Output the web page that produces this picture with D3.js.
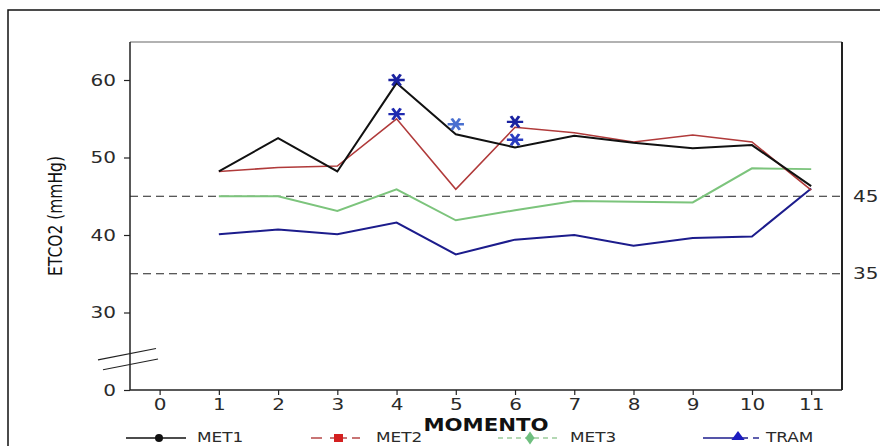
<!DOCTYPE html>
<html>
<head>
<meta charset="utf-8">
<script src="https://cdn.jsdelivr.net/npm/d3@7/dist/d3.min.js"></script>
<style>
  html, body { margin: 0; padding: 0; background: #fff; }
  svg { display: block; }
  text { font-family: "DejaVu Sans", Verdana, sans-serif; fill: #2a2a2a; }
</style>
</head>
<body>
<script>
// ETCO2 (mmHg) by moment for four groups
const moments = [1, 2, 3, 4, 5, 6, 7, 8, 9, 10, 11];
const xTicks = [0, 1, 2, 3, 4, 5, 6, 7, 8, 9, 10, 11];
const yTicks = [20, 30, 40, 50, 60];
const yTickLabels = ["0", "30", "40", "50", "60"];
const seriesNames = ["MET1", "MET2", "MET3", "TRAM"];
const met1 = [48.2, 52.5, 48.2, 59.6, 53.0, 51.3, 52.8, 51.9, 51.2, 51.6, 46.3];
const met2 = [48.2, 48.7, 48.9, 55.0, 45.9, 53.9, 53.2, 52.0, 52.9, 52.0, 45.8];
const met3 = [45.0, 45.0, 43.1, 45.9, 41.9, 43.2, 44.4, 44.3, 44.2, 48.6, 48.5];
const tram = [40.1, 40.7, 40.1, 41.6, 37.5, 39.4, 40.0, 38.6, 39.6, 39.8, 46.0];
const refLines = [45, 35];
// significance marks
const sigMoments = [4, 4, 5, 6, 6];
const sigValues = [60.0, 55.6, 54.3, 54.6, 52.3];

const W = 880, H = 446;
const SX = 1.25; // horizontal text stretch

const svg = d3.select("body").append("svg").attr("width", W).attr("height", H);

const x = d3.scaleLinear().domain([-0.5, 11.52]).range([130, 842]);
const y = d3.scaleLinear().domain([20, 65]).range([390, 41.25]);

function stext(g, px, py, str, size, opts = {}) {
  const t = g.append("text")
    .attr("transform", `translate(${px},${py}) scale(${SX},1)`)
    .attr("font-size", size)
    .attr("text-anchor", opts.anchor || "start")
    .text(str);
  if (opts.dy) t.attr("dy", opts.dy);
  if (opts.weight) t.attr("font-weight", opts.weight);
  return t;
}

// outer border
svg.append("path")
  .attr("d", `M8,${H} V10 H${W}`)
  .attr("fill", "none").attr("stroke", "#111").attr("stroke-width", 1.5);

// plot frame
svg.append("line").attr("x1", 130).attr("x2", 842).attr("y1", 42).attr("y2", 42)
  .attr("stroke", "#666").attr("stroke-width", 1.2);
svg.append("line").attr("x1", 842).attr("x2", 842).attr("y1", 42).attr("y2", 390)
  .attr("stroke", "#222").attr("stroke-width", 2);
svg.append("line").attr("x1", 130).attr("x2", 130).attr("y1", 42).attr("y2", 390)
  .attr("stroke", "#222").attr("stroke-width", 1.5);
svg.append("line").attr("x1", 130).attr("x2", 842).attr("y1", 390).attr("y2", 390)
  .attr("stroke", "#222").attr("stroke-width", 1.5);

// axes
const yAxis = svg.append("g").attr("transform", "translate(130,0)")
  .call(d3.axisLeft(y).tickValues(yTicks).tickSize(6)
    .tickFormat((d, i) => yTickLabels[i]));
yAxis.select(".domain").remove();
yAxis.selectAll(".tick line").attr("stroke", "#222").attr("stroke-width", 1.2);
yAxis.selectAll(".tick text")
  .attr("font-size", 16)
  .attr("x", -14 / SX).attr("dy", "0.34em")
  .attr("transform", `scale(${SX},1)`);

const xAxis = svg.append("g").attr("transform", "translate(0,390)")
  .call(d3.axisBottom(x).tickValues(xTicks).tickSize(5).tickPadding(4).tickFormat(d3.format("d")));
xAxis.select(".domain").remove();
xAxis.selectAll(".tick line").attr("stroke", "#222").attr("stroke-width", 1.2);
xAxis.selectAll(".tick text")
  .attr("font-size", 16)
  .attr("transform", `scale(${SX},1)`);
yAxis.attr("font-family", null);
xAxis.attr("font-family", null);

// axis break marks
const slope = -11 / 56;
[[24.7, 98, 156], [23.3, 103, 158]].forEach(([v, xa, xb]) => {
  const yc = y(v);
  svg.append("line")
    .attr("x1", xa).attr("y1", yc + slope * (xa - 130))
    .attr("x2", xb).attr("y2", yc + slope * (xb - 130))
    .attr("stroke", "#222").attr("stroke-width", 1.1);
});

// reference lines
refLines.forEach(v => {
  svg.append("line").attr("x1", 130).attr("x2", 840).attr("y1", y(v)).attr("y2", y(v))
    .attr("stroke", "#222").attr("stroke-width", 1).attr("stroke-dasharray", "8,5");
  stext(svg, 853, y(v), String(v), 16, { dy: "0.35em" });
});

// series lines
const line = d3.line().x(d => x(d[0])).y(d => y(d[1]));
const seriesData = [met1, met2, met3, tram];
const seriesStyle = [
  { color: "#111111", width: 2 },
  { color: "#b03a3a", width: 1.6 },
  { color: "#7cc47c", width: 2 },
  { color: "#1c1c8c", width: 2 }
];
// green and blue underneath, red and black on top
[2, 3, 1, 0].forEach(i => {
  svg.append("path")
    .datum(moments.map((m, j) => [m, seriesData[i][j]]))
    .attr("d", line)
    .attr("fill", "none")
    .attr("stroke", seriesStyle[i].color)
    .attr("stroke-width", seriesStyle[i].width)
    .attr("stroke-linejoin", "miter");
});

// significance asterisks
const sigColors = ["#1a22a0", "#1f2ab0", "#4a70d0", "#1a22a0", "#2a3cc0"];
const star = d3.symbol().type(d3.symbolAsterisk).size(120);
sigMoments.forEach((m, i) => {
  svg.append("path")
    .attr("d", star())
    .attr("transform", `translate(${x(m)},${y(sigValues[i])}) scale(${SX},1) rotate(90)`)
    .attr("fill", "none")
    .attr("stroke", sigColors[i])
    .attr("stroke-width", 2.4);
});

// axis titles
stext(svg, 486, 431, "MOMENTO", 17, { anchor: "middle", weight: "bold" }).style("fill", "#111");
svg.append("text")
  .attr("transform", `translate(62,216) scale(${SX},1) rotate(-90)`)
  .attr("font-size", 15.5)
  .attr("text-anchor", "middle")
  .style("fill", "#111")
  .text("ETCO2 (mmHg)");

// legend
const lg = svg.append("g");
const ly = 438;
const lt = 442;
const lfs = 13.5;
// MET1
lg.append("line").attr("x1", 126).attr("x2", 186).attr("y1", ly).attr("y2", ly)
  .attr("stroke", "#111").attr("stroke-width", 1.6);
lg.append("circle").attr("cx", 159).attr("cy", ly).attr("r", 4).attr("fill", "#111");
stext(lg, 197, lt, seriesNames[0], lfs);
// MET2
lg.append("line").attr("x1", 311).attr("x2", 322).attr("y1", ly).attr("y2", ly)
  .attr("stroke", "#b03a3a").attr("stroke-width", 1.4);
lg.append("line").attr("x1", 330).attr("x2", 347).attr("y1", ly).attr("y2", ly)
  .attr("stroke", "#b03a3a").attr("stroke-width", 1.4);
lg.append("rect").attr("x", 334).attr("y", ly - 4).attr("width", 9).attr("height", 8).attr("fill", "#d42020");
lg.append("line").attr("x1", 352).attr("x2", 360).attr("y1", ly).attr("y2", ly)
  .attr("stroke", "#b03a3a").attr("stroke-width", 1.4);
stext(lg, 376, lt, seriesNames[1], lfs);
// MET3
lg.append("line").attr("x1", 498).attr("x2", 558).attr("y1", ly).attr("y2", ly)
  .attr("stroke", "#9ccc9c").attr("stroke-width", 1.4).attr("stroke-dasharray", "5,4");
lg.append("path").attr("d", d3.symbol().type(d3.symbolDiamond).size(50)())
  .attr("transform", `translate(530,${ly}) scale(1.2,1)`).attr("fill", "#6fbf7f");
stext(lg, 570, lt, seriesNames[2], lfs);
// TRAM
lg.append("line").attr("x1", 703).attr("x2", 748).attr("y1", ly).attr("y2", ly)
  .attr("stroke", "#1c1c8c").attr("stroke-width", 1.4);
lg.append("path").attr("d", d3.symbol().type(d3.symbolTriangle).size(45)())
  .attr("transform", `translate(738,${ly - 1}) scale(1.3,1)`).attr("fill", "#1c1cc0");
lg.append("line").attr("x1", 753).attr("x2", 759).attr("y1", ly).attr("y2", ly)
  .attr("stroke", "#1c1c8c").attr("stroke-width", 1.4);
stext(lg, 766, lt, seriesNames[3], lfs);
</script>
</body>
</html>
